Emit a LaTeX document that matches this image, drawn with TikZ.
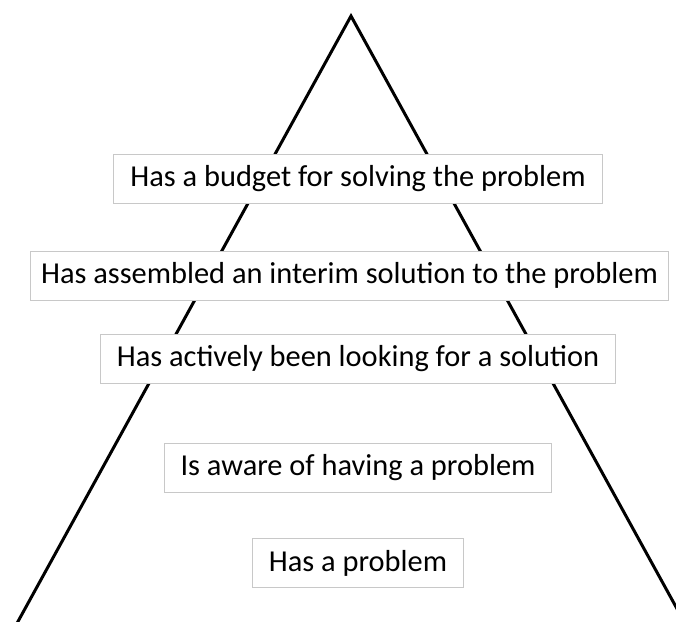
\documentclass[tikz,border=0pt]{standalone}
\usepackage{fontspec}
\setmainfont{Carlito}
\tikzset{
	level/.style={draw={rgb,255:red,200;green,200;blue,200}, line width=1pt, fill=white,
		inner xsep=16.5pt, minimum height=49pt, font=\fontsize{30.4}{36}\selectfont},
}
\begin{document}
\begin{tikzpicture}[x=1pt,y=1pt,yscale=-1,xscale=1]
	\useasboundingbox (0,0) rectangle (676,621);
	\clip (0,0) rectangle (676,621);

	% apex and base points of the pyramid
	\coordinate (apex) at (351,16);
	\coordinate (baseL) at (7.8,640);
	\coordinate (baseR) at (694.2,640);
	%Straight Lines
	\draw [line width=3pt, line join=miter] (baseL) -- (apex) -- (baseR) ;

	% Text Node
	\node [level] (budget) at (358,179) {Has a budget for solving the problem};
	% Text Node
	\node [level, inner xsep=11pt] (interim) at (349.5,275.5) {Has assembled an interim solution to the problem};
	% Text Node
	\node [level] (looking) at (358,359) {Has actively been looking for a solution};
	% Text Node
	\node [level] (aware) at (358,468) {Is aware of having a problem};
	% Text Node
	\node [level] (problem) at (358,563) {Has a problem};
\end{tikzpicture}
\end{document}
